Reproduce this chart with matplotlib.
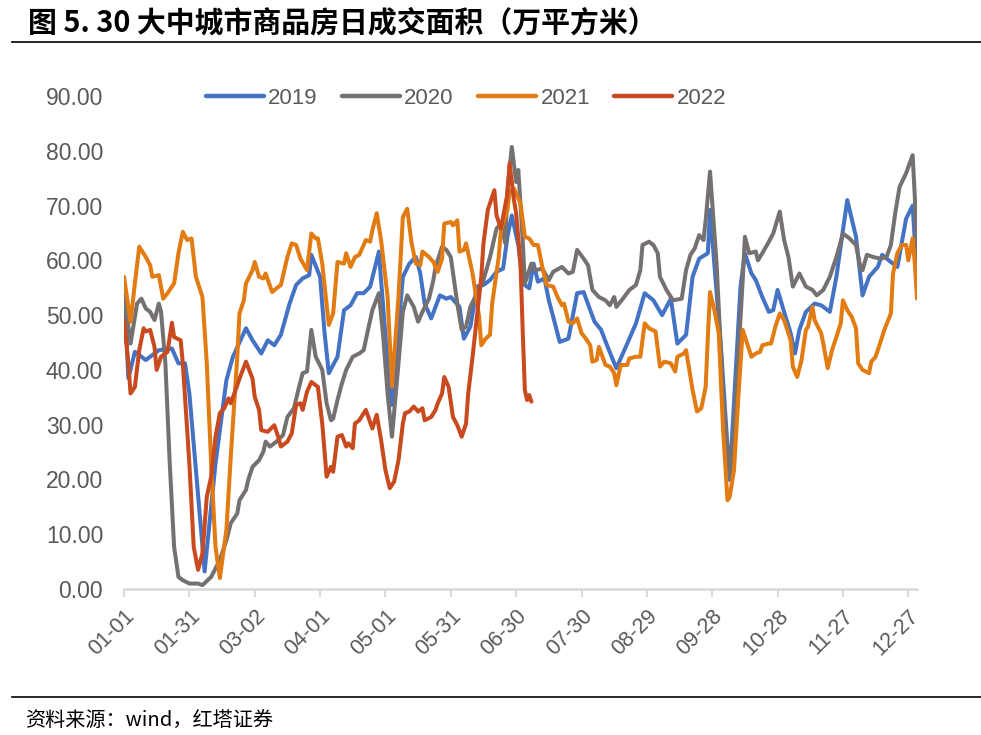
import matplotlib
matplotlib.use("Agg")
import matplotlib.pyplot as plt
from matplotlib.lines import Line2D

# ---------------- data (day index from 01-01, value in 万平方米) ----------------
days_2019 = [0, 2, 5, 10, 16, 22, 25, 28, 30, 37, 42, 47, 50, 56, 59, 63, 66, 69, 72, 76, 79, 82, 85, 86, 90, 92, 94,
             98, 101, 104, 107, 110, 113, 117, 118, 121, 123, 128, 131, 134, 136, 138, 141, 143, 145, 148, 150, 154,
             156, 159, 162, 165, 168, 171, 174, 176, 178, 181, 183, 186, 188, 190, 193, 195, 197, 200, 204, 208, 211,
             214, 216, 219, 222, 226, 231, 235, 239, 243, 247, 251, 254, 258, 261, 264, 268, 269, 274, 278, 283, 285,
             288, 290, 293, 296, 298, 300, 303, 306, 308, 310, 313, 317, 320, 324, 327, 330, 332, 336, 339, 342, 346,
             348, 352, 355, 359, 362, 364]
vals_2019 = [55.2, 38.5, 43.3, 41.8, 43.6, 43.9, 41.2, 41.2, 35.7, 3.2, 22.9, 38.1, 42.4, 47.6, 45.4, 43.0, 45.4, 44.5,
             46.4, 52.1, 55.5, 56.7, 57.3, 61.0, 57.0, 47.0, 39.4,
             42.4, 50.9, 51.8, 54.0, 54.0, 55.2, 61.6, 56.4, 41.2, 33.6, 57.0, 59.4, 60.6, 57.6, 52.1, 49.4, 51.5, 53.6,
             53.0, 53.3, 51.5, 45.7, 47.9, 55.2, 55.5, 56.4, 57.9, 58.5, 64.3, 68.2, 62.8, 55.8, 54.9, 59.4, 56.1, 56.7,
             52.7, 49.7, 45.1, 45.7, 54.0, 54.2, 50.9, 48.8, 47.3, 44.2, 40.3, 44.8, 48.5, 54.0, 52.7, 50.0, 53.0, 44.8,
             46.4, 57.0, 60.3, 61.3, 69.2, 44.2, 19.9, 55.2, 61.3, 57.6, 56.4, 53.3, 50.6, 50.9, 54.6, 50.6, 46.7, 43.0,
             47.3, 50.6, 52.1, 51.8, 50.6, 57.0, 65.5, 71.0, 64.3, 53.6, 57.0, 58.8, 61.0, 59.7, 58.8, 67.6, 70.0, 57.3]

days_2020 = [0, 3, 6, 8, 10, 12, 14, 16, 17, 19, 21, 23, 25, 27, 30, 34, 36, 40, 44, 47, 49, 52, 53, 56, 57, 59, 62, 64,
             65, 67, 70, 73, 75, 78, 80, 82, 84, 86, 88, 91, 93, 95, 96, 98, 100, 102, 105, 108, 110, 112, 114, 117, 119,
             121, 123, 126, 128, 130, 133, 135, 137, 140, 142, 143, 146, 148, 150, 153, 155, 157, 159, 162, 165, 168,
             171, 173, 175, 176, 178, 180, 181, 183, 184, 187, 189, 192, 195, 197, 201, 204, 206, 208, 211, 213, 215,
             218, 221, 223, 225, 226, 229, 232, 235, 237, 238, 241, 243, 245, 246, 249, 252, 256, 258, 260, 262, 264,
             266, 267, 269, 272, 275, 278, 280, 284, 285, 287, 290, 291, 293, 296, 298, 301, 303, 305, 307, 310, 313,
             316, 318, 321, 324, 327, 330, 333, 336, 338, 339, 341, 344, 347, 350, 352, 354, 356, 359, 362, 363, 364]
vals_2020 = [54.0, 44.8, 52.1, 53.0, 51.2, 50.6, 49.1, 52.1, 50.6, 41.2, 22.9, 7.7, 2.2, 1.6, 1.0, 1.0, 0.7, 2.2, 5.3,
             8.9, 12.0, 13.8, 16.2, 18.1, 19.9, 22.3, 23.5, 25.1, 26.9, 26.0, 26.9, 28.1, 31.4, 33.0, 36.3, 39.4, 39.7,
             47.3, 42.4, 40.0, 33.9, 30.8, 31.1, 34.5, 37.5, 40.0, 42.4, 43.0, 43.6, 47.3, 50.9, 54.0, 46.0, 35.7, 27.8,
             41.2, 50.6, 53.6, 51.5, 48.8, 50.6, 53.0, 56.4, 58.8, 62.5, 61.9, 60.6, 52.1, 47.3, 47.9, 51.5, 54.0, 56.4,
             60.6, 65.8, 66.7, 63.1, 72.8, 80.7, 74.3, 76.5, 63.7, 55.8, 59.4, 58.2, 58.5, 56.4, 57.9, 58.8, 57.6, 57.9,
             61.9, 60.3, 59.1, 54.6, 53.3, 52.7, 51.8, 53.3, 51.5, 53.0, 54.6, 55.5, 58.2, 62.8, 63.4, 62.8, 61.3, 57.0,
             54.6, 52.7, 53.0, 58.2, 61.0, 62.2, 64.6, 63.7, 67.3, 76.2, 59.4, 35.1, 20.5, 29.0, 56.4, 64.3, 61.3, 61.6,
             60.0, 61.3, 63.4, 64.9, 68.9, 63.7, 60.6, 55.2, 57.6, 55.2, 54.6, 53.6, 54.6, 57.0, 60.6, 64.9, 64.0, 62.8,
             58.8, 58.2, 61.0, 60.6, 60.3, 60.6, 62.8, 68.6, 73.4, 75.9, 79.2, 71.6, 59.1]

days_2021 = [0, 3, 5, 7, 10, 12, 13, 16, 18, 20, 23, 25, 27, 29, 31, 33, 36, 38, 40, 42, 44, 47, 49, 52, 53, 55, 56, 59,
             60, 62, 64, 65, 68, 70, 72, 75, 77, 79, 81, 84, 86, 88, 89, 91, 94, 96, 98, 101, 102, 104, 106, 108, 111,
             113, 114, 116, 118, 121, 123, 126, 128, 130, 132, 134, 136, 137, 140, 142, 144, 146, 147, 150, 151, 153,
             154, 156, 157, 160, 163, 164, 166, 168, 169, 170, 172, 173, 176, 177, 179, 182, 184, 186, 188, 190, 192,
             194, 197, 199, 201, 202, 204, 206, 208, 210, 212, 214, 215, 217, 218, 221, 223, 225, 226, 228, 231, 232,
             235, 237, 239, 241, 244, 246, 248, 251, 253, 254, 257, 258, 261, 263, 265, 267, 268, 269, 271, 273, 275,
             277, 278, 280, 282, 284, 287, 288, 290, 292, 293, 296, 297, 299, 301, 303, 306, 307, 309, 311, 313, 314,
             316, 317, 320, 321, 323, 325, 327, 329, 330, 332, 334, 336, 337, 339, 342, 343, 345, 347, 349, 352, 353,
             355, 357, 359, 360, 362, 363, 364]
vals_2021 = [57.0, 48.8, 55.8, 62.5, 60.6, 59.1, 57.0, 57.3, 53.0, 54.0, 55.8, 61.3, 65.2, 63.7, 64.0, 57.0, 53.3, 41.2,
             22.9, 7.7, 2.0, 10.8, 24.1, 42.4, 50.3, 52.7, 55.8, 58.2, 59.7, 57.0, 56.7, 57.6, 54.2, 54.9, 55.5, 60.6,
             63.1, 62.8, 60.3, 58.2, 64.9, 64.0, 64.0, 59.4, 48.2, 50.3, 59.7, 59.4, 61.3, 58.8, 60.6, 61.0, 63.7, 63.4,
             65.5, 68.6, 63.7, 53.3, 36.9, 53.3, 67.9, 69.4, 63.1, 59.4, 59.1, 61.6, 60.6, 59.7, 57.9, 60.3, 66.7, 67.0,
             66.4, 67.3, 61.6, 61.9, 63.1, 57.6, 49.7, 44.5, 45.7, 46.4, 52.1, 54.9, 60.6, 65.5, 69.2, 72.5, 73.1, 70.4,
             64.3, 64.0, 62.8, 62.8, 58.8, 55.5, 55.2, 53.3, 51.8, 52.1, 48.8, 48.5, 49.4, 46.7, 45.7, 44.5, 41.5, 41.8,
             44.2, 40.9, 40.6, 39.4, 37.2, 40.9, 40.9, 42.1, 42.4, 42.4, 48.5, 47.6, 47.0, 40.6, 41.5, 41.2, 39.7, 42.4,
             43.0, 43.6, 36.3, 32.4, 33.0, 36.9, 46.0, 54.2, 50.9, 46.7, 29.0, 16.2, 16.8, 21.7, 35.1, 47.3, 43.6, 42.4,
             43.0, 43.3, 44.5, 44.8, 44.8, 47.9, 50.3, 49.1, 45.4, 40.6, 38.7, 41.8, 47.3, 47.9, 51.5, 49.1, 46.7, 44.8,
             40.3, 43.6, 46.0, 48.5, 52.7, 50.9, 49.7, 47.6, 41.2, 40.0, 39.4, 41.5, 42.4, 44.8, 47.3, 50.3, 57.6, 61.3,
             62.8, 62.8, 60.0, 64.0, 59.4, 53.0]

days_2022 = [0, 2, 3, 5, 7, 9, 10, 12, 14, 15, 17, 20, 21, 22, 23, 26, 27, 30, 32, 34, 36, 38, 40, 42, 44, 46, 48, 49,
             52, 53, 56, 59, 60, 62, 63, 66, 69, 71, 72, 75, 77, 79, 81, 82, 84, 86, 89, 91, 92, 93, 95, 96, 98, 100,
             102, 103, 105, 106, 108, 111, 114, 116, 118, 120, 122, 124, 126, 128, 129, 131, 133, 135, 137, 138, 141,
             143, 144, 146, 147, 149, 151, 153, 155, 157, 158, 160, 162, 164, 165, 167, 170, 171, 173, 174, 176, 177,
             179, 180, 182, 183, 184, 185, 186, 187]
vals_2022 = [49.1, 41.2, 35.7, 36.9, 43.6, 47.6, 47.0, 47.3, 44.2, 40.0, 42.4, 43.3, 46.0, 48.6, 46.0, 45.4, 41.2, 22.9,
             7.7, 3.5, 6.5, 16.8, 20.5, 27.8, 32.1, 33.0, 34.8, 33.9, 37.2, 38.4, 41.5, 38.4, 35.1, 32.7, 29.0, 28.7,
             29.9, 27.5, 26.0, 26.9, 28.4, 33.6, 33.9, 32.7, 36.0, 37.8, 36.9, 30.2, 25.4, 20.5, 22.3, 21.4, 27.8, 28.1,
             26.0, 26.6, 25.7, 30.2, 30.8, 32.7, 29.3, 31.8, 27.2, 21.7, 18.4, 19.6, 23.5, 30.2, 32.1, 32.4, 33.3, 32.4,
             33.0, 30.8, 31.4, 32.7, 33.9, 35.7, 38.7, 36.9, 31.4, 29.9, 27.8, 30.2, 35.7, 42.4, 49.7, 57.0, 63.1, 69.2,
             72.8, 68.2, 65.8, 67.9, 72.2, 77.7, 71.0, 68.6, 59.4, 47.3, 36.3, 34.5, 35.4, 34.2]

tick_days = [0, 30, 60, 90, 120, 150, 180, 210, 240, 270, 300, 330, 360]
tick_labels = ["01-01", "01-31", "03-02", "04-01", "05-01", "05-31", "06-30",
               "07-30", "08-29", "09-28", "10-28", "11-27", "12-27"]
y_ticks = [0, 10, 20, 30, 40, 50, 60, 70, 80, 90]

series = [("2019", days_2019, vals_2019, "#4472C4"),
          ("2020", days_2020, vals_2020, "#767171"),
          ("2021", days_2021, vals_2021, "#E27B12"),
          ("2022", days_2022, vals_2022, "#C94A1E")]

title = "图 5. 30 大中城市商品房日成交面积（万平方米）"
source = "资料来源：wind，红塔证券"

# ---------------- fonts ----------------
cjk = ["Noto Sans CJK SC", "DejaVu Sans"]
plt.rcParams["font.family"] = ["Liberation Sans", "Noto Sans CJK SC", "DejaVu Sans"]

# ---------------- figure ----------------
W, H = 981, 735
fig = plt.figure(figsize=(W / 100, H / 100), dpi=100)
ax = fig.add_axes([124 / W, 1 - 589 / H, (917 - 124) / W, (589 - 96) / H])

for name, d, v, c in series:
    ax.plot(d, v, color=c, lw=2.9, label=name, solid_joinstyle="round", solid_capstyle="round")

ax.set_xlim(0, 364)
ax.set_ylim(0, 90)
ax.set_yticks(y_ticks)
ax.set_yticklabels([f"{t:.2f}" for t in y_ticks], fontsize=16.5, color="#595959")
ax.set_xticks(tick_days)
ax.set_xticklabels(tick_labels, fontsize=15.5, color="#595959", rotation=45,
                   ha="right", va="top", rotation_mode="anchor")

for s in ["left", "right", "top"]:
    ax.spines[s].set_visible(False)
ax.spines["bottom"].set_color("#D9D9D9")
ax.spines["bottom"].set_linewidth(1.8)
ax.tick_params(axis="y", length=0, pad=15)
ax.tick_params(axis="x", length=6, width=1.5, color="#D9D9D9", pad=6)

leg = ax.legend(loc="center", bbox_to_anchor=(466 / W, 1 - 98 / H), bbox_transform=fig.transFigure,
                ncol=4, frameon=False, fontsize=16, handlelength=2.6, handletextpad=0.2,
                columnspacing=1.1, borderaxespad=0, borderpad=0)
for t in leg.get_texts():
    t.set_color("#595959")
for l in leg.get_lines():
    l.set_linewidth(3.2)

fig.text(28 / W, 1 - 22 / H, title, family=cjk, fontsize=20.8, fontweight="bold",
         ha="left", va="center", color="black")
fig.add_artist(Line2D([12 / W, 1.0], [1 - 42 / H, 1 - 42 / H], color="black", lw=1.2,
                      transform=fig.transFigure))
fig.add_artist(Line2D([12 / W, 1.0], [1 - 697 / H, 1 - 697 / H], color="black", lw=1.2,
                      transform=fig.transFigure))
fig.text(25 / W, 1 - 720 / H, source, family=cjk, fontsize=14.5, ha="left", va="center", color="black")

fig.savefig("out.png", dpi=100)
